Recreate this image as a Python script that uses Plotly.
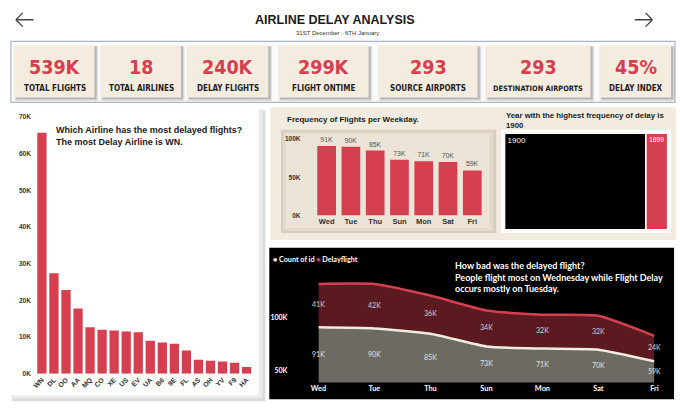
import plotly.graph_objects as go

W, H = 680, 417

# ---------------- data ----------------
KPI_VALUES = ["539K", "18", "240K", "299K", "293", "293", "45%"]
KPI_LABELS = ["TOTAL FLIGHTS", "TOTAL AIRLINES", "DELAY FLIGHTS", "FLIGHT ONTIME",
              "SOURCE AIRPORTS", "DESTINATION AIRPORTS", "DELAY INDEX"]

AIRLINES = ["WN", "DL", "OO", "AA", "MQ", "CO", "XE", "US", "EV", "UA",
            "B6", "9E", "FL", "AS", "OH", "YV", "F9", "HA"]
AIRLINE_DELAYS = [65700, 27400, 22800, 17800, 12700, 12000, 11800, 11500, 11300, 9000,
                  8500, 8200, 6300, 3800, 3500, 3300, 3000, 1800]
AIRLINE_TICKVALS = [0, 10000, 20000, 30000, 40000, 50000, 60000, 70000]
AIRLINE_TICKTEXT = ["0K", "10K", "20K", "30K", "40K", "50K", "60K", "70K"]

WEEKDAYS = ["Wed", "Tue", "Thu", "Sun", "Mon", "Sat", "Fri"]
WEEKDAY_FLIGHTS = [91000, 90000, 85000, 73000, 71000, 70000, 59000]
WEEKDAY_LABELS = ["91K", "90K", "85K", "73K", "71K", "70K", "59K"]
WEEKDAY_TICKVALS = [0, 50000, 100000]
WEEKDAY_TICKTEXT = ["0K", "50K", "100K"]

YEARS = ["1900", "1899"]
YEAR_DELAYS = [208000, 32000]

DELAY_FLIGHTS = [41000, 42000, 36000, 34000, 32000, 32000, 24000]
DELAY_LABELS = ["41K", "42K", "36K", "34K", "32K", "32K", "24K"]
AREA_TICKVALS = [50000, 100000]
AREA_TICKTEXT = ["50K", "100K"]

RED = "#d63f4f"
AREA_YMIN, AREA_YMAX = 39000, 153000
NARROW = "Liberation Sans Narrow, DejaVu Sans Condensed, Arial Narrow, sans-serif"


def px(x):
    return x / W


def py(y):
    return 1 - y / H


shapes = []
annotations = []


def rect(x0, y0, x1, y1, color, line=None, lw=0):
    shapes.append(dict(type="rect", xref="paper", yref="paper",
                       x0=px(x0), x1=px(x1), y0=py(y1), y1=py(y0),
                       fillcolor=color, line=dict(color=line or color, width=lw),
                       layer="below"))


def text(x, y, s, size, color="#222", family="Liberation Sans", xanchor="left",
         yanchor="middle", align="left"):
    annotations.append(dict(x=px(x), y=py(y), xref="paper", yref="paper", text=s,
                            showarrow=False, xanchor=xanchor, yanchor=yanchor, align=align,
                            font=dict(size=size, color=color, family=family)))


# ---------------- header ----------------
text(333, 16, "<b>AIRLINE DELAY ANALYSIS</b>", 12.5, "#1a1a1a", xanchor="center")
text(335, 29, "31ST December - 6TH January", 6, "#333", xanchor="center")
for pts in ["M 8 16 L 26 16 M 8 16 L 15 9 M 8 16 L 15 23",
            "M 656 16 L 638 16 M 656 16 L 649 9 M 656 16 L 649 23"]:
    toks = pts.split()
    out = []
    i = 0
    while i < len(toks):
        out.append(toks[i])
        out.append("%.5f,%.5f" % (px(float(toks[i + 1])), py(float(toks[i + 2]))))
        i += 3
    shapes.append(dict(type="path", xref="paper", yref="paper", path=" ".join(out),
                       line=dict(color="#444", width=1.3)))

# ---------------- KPI strip ----------------
rect(3, 38, 679, 100, "#fbfbfb", line="#a8b6c6", lw=1.2)
CARDS = [(7, 88), (95, 176), (183, 265), (276, 367), (378, 478), (487, 593), (603, 675)]
for (x0, x1), v, lab in zip(CARDS, KPI_VALUES, KPI_LABELS):
    rect(x0 - 1, 43, x1 + 4, 99, "rgba(0,0,0,0.07)")
    rect(x0 + 1, 43, x1 + 3, 98, "rgba(0,0,0,0.10)")
    rect(x0 + 1, 43, x1 + 2, 97, "rgba(0,0,0,0.12)")
    rect(x0, 42, x1, 95, "#f4ecdf")
    cx = (x0 + x1) / 2
    text(cx, 65, "<b>%s</b>" % v, 19.5, RED, family=NARROW, xanchor="center")
    text(cx, 86, "<b>%s</b>" % lab, 8 if len(lab) < 18 else 7.4, "#1e1e1e",
         family=NARROW, xanchor="center")

# ---------------- left panel ----------------
rect(4, 108, 262, 404, "#dcdcdc")
rect(3, 107, 259, 401, "#ececec")
rect(3, 107, 255, 398, "#ffffff")
text(47, 121, "<b>Which Airline has the most delayed flights?<br>The most Delay Airline is WN.</b>",
     9, "#1a1a1a", yanchor="top")

# ---------------- right-top beige panel ----------------
rect(267, 105, 680, 240, "#f2ebdf")
rect(278, 128, 497, 233, "#d8cebf")
rect(280, 130, 494, 231, "#e3dacb")
rect(283, 132, 490, 228, "#ece4d6")
text(282, 117, "<b>Frequency of Flights per Weekday.</b>", 8, "#1a1a1a")
text(505, 107, "<b>Year with the highest frequency of delay is<br>1900</b>", 7.8, "#1a1a1a",
     yanchor="top")
rect(502, 128, 675, 233, "#ffffff")
rect(505, 131, 672, 230, "#b0b0b0")

# ---------------- bottom black panel ----------------
rect(266, 248, 678, 402, "#000000")
text(268, 260, "<b><span style='color:#f2ebe0'>●</span> Count of id "
               "<span style='color:%s'>●</span> Delayflight</b>" % RED, 7.2, "#ffffff",
     family="Lato, Liberation Sans")
text(453, 258, "<b>How bad was the delayed flight?<br>People flight most on Wednesday while Flight Delay"
               "<br>occurs mostly on Tuesday.</b>", 9, "#ffffff", family="Lato, Liberation Sans",
     yanchor="top")

fig = go.Figure()

# left airline bar chart
fig.add_trace(go.Bar(x=AIRLINES, y=AIRLINE_DELAYS, marker=dict(color=RED, line=dict(width=0)),
                     xaxis="x", yaxis="y", hoverinfo="skip", showlegend=False))

# weekday bar chart
fig.add_trace(go.Bar(x=WEEKDAYS, y=WEEKDAY_FLIGHTS, text=WEEKDAY_LABELS, textposition="outside",
                     textfont=dict(size=6.8, color="#555", family="Liberation Sans"),
                     cliponaxis=False,
                     marker=dict(color=RED, line=dict(width=0)),
                     xaxis="x2", yaxis="y2", hoverinfo="skip", showlegend=False))

# year treemap
fig.add_trace(go.Treemap(labels=YEARS, parents=["", ""], values=YEAR_DELAYS,
                         marker=dict(colors=["#000000", RED], line=dict(color="#ffffff", width=1.5),
                                     pad=dict(t=0, l=0, r=0, b=0)),
                         tiling=dict(packing="dice", pad=0), textinfo="label",
                         textposition="top left",
                         textfont=dict(color="#ffffff", size=8, family="Liberation Sans"),
                         pathbar=dict(visible=False), sort=True, hoverinfo="skip",
                         domain=dict(x=[px(505.5), px(671.5)], y=[py(229.5), py(131.5)])))

# stacked area chart
fig.add_trace(go.Scatter(x=WEEKDAYS, y=WEEKDAY_FLIGHTS, stackgroup="one", mode="lines",
                         line=dict(color="#f2ebe0", width=2.5, shape="spline", smoothing=0.5),
                         fillcolor="#6d6963", xaxis="x3", yaxis="y3",
                         hoverinfo="skip", showlegend=False))
fig.add_trace(go.Scatter(x=WEEKDAYS, y=DELAY_FLIGHTS, stackgroup="one", mode="lines",
                         line=dict(color=RED, width=2.5, shape="spline", smoothing=0.5),
                         fillcolor="#5a1a20", xaxis="x3", yaxis="y3",
                         hoverinfo="skip", showlegend=False))
# data labels centred in each visible band
grey_mid = [(AREA_YMIN + v) / 2 for v in WEEKDAY_FLIGHTS]
red_mid = [v + d / 2 for v, d in zip(WEEKDAY_FLIGHTS, DELAY_FLIGHTS)]
fig.add_trace(go.Scatter(x=WEEKDAYS, y=grey_mid, mode="text", text=WEEKDAY_LABELS,
                         textfont=dict(size=7, color="#e6e1da", family="Lato, Liberation Sans"),
                         xaxis="x3", yaxis="y3", hoverinfo="skip", showlegend=False,
                         cliponaxis=False))
fig.add_trace(go.Scatter(x=WEEKDAYS, y=red_mid, mode="text", text=DELAY_LABELS,
                         textfont=dict(size=7, color="#d9cccc", family="Lato, Liberation Sans"),
                         xaxis="x3", yaxis="y3", hoverinfo="skip", showlegend=False,
                         cliponaxis=False))

axis_common = dict(showgrid=False, zeroline=False, showline=False, ticks="", fixedrange=True)

fig.update_layout(
    width=W, height=H, margin=dict(l=0, r=0, t=0, b=0),
    paper_bgcolor="#ffffff", plot_bgcolor="rgba(0,0,0,0)",
    bargap=0.23, showlegend=False,
    shapes=shapes, annotations=annotations,
    xaxis=dict(domain=[px(28.4), px(249)], type="category", tickangle=-45,
               tickfont=dict(size=6.8, color="#333", family="Liberation Sans", weight="bold"),
               **axis_common),
    yaxis=dict(domain=[py(376), py(115)], range=[0, 70000], tickvals=AIRLINE_TICKVALS,
               ticktext=AIRLINE_TICKTEXT, ticklabelstandoff=4,
               tickfont=dict(size=6.5, color="#333", family="Liberation Sans", weight="bold"),
               **axis_common),
    xaxis2=dict(domain=[px(312), px(485)], type="category", anchor="y2",
                tickfont=dict(size=7.5, color="#333", family="Liberation Sans", weight="bold"),
                ticklabelstandoff=0, **axis_common),
    yaxis2=dict(domain=[py(215), py(133.6)], range=[0, 105000], anchor="x2",
                tickvals=WEEKDAY_TICKVALS, ticktext=WEEKDAY_TICKTEXT, ticklabelstandoff=13,
                tickfont=dict(size=6.5, color="#333", family="Liberation Sans", weight="bold"),
                **axis_common),
    xaxis3=dict(domain=[px(316), px(658)], type="category", anchor="y3", range=[0, 6],
                tickfont=dict(size=7.3, color="#ffffff", family="Lato, Liberation Sans",
                              weight="bold"),
                ticklabelstandoff=0, **axis_common),
    yaxis3=dict(domain=[py(385), py(262)], range=[AREA_YMIN, AREA_YMAX], anchor="x3",
                tickvals=AREA_TICKVALS, ticktext=AREA_TICKTEXT, ticklabelstandoff=30,
                tickfont=dict(size=7, color="#ffffff", family="Lato, Liberation Sans",
                              weight="bold"),
                **axis_common),
)

fig.write_html("out.html", config={"displayModeBar": False},
               post_script="document.body.style.margin='0px';")
